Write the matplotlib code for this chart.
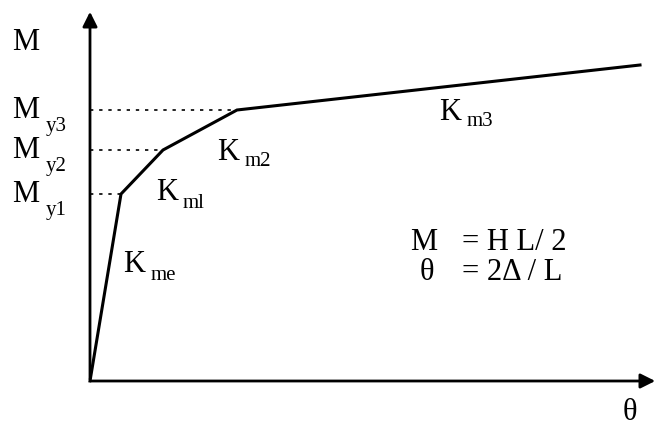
import matplotlib.pyplot as plt

# kurva momen-rotasi (satuan relatif terhadap titik asal)
theta = [0, 31, 73, 147, 550]
M = [0, 187, 231, 271, 316]
leleh_label = ['y1', 'y2', 'y3']
kekakuan_label = ['me', 'ml', 'm2', 'm3']

plt.rcParams['font.family'] = ['Liberation Serif', 'DejaVu Serif']

fig = plt.figure(figsize=(6.58, 4.29), dpi=100)
ax = fig.add_axes([0, 0, 1, 1])
ax.set_xlim(-90, 568)
ax.set_ylim(-48, 381)
ax.axis('off')

# sumbu
ax.annotate('', xy=(568, 0), xytext=(-1, 0),
            arrowprops=dict(arrowstyle='-|>', lw=2, color='black', mutation_scale=22))
ax.annotate('', xy=(0, 372), xytext=(0, -1),
            arrowprops=dict(arrowstyle='-|>', lw=2, color='black', mutation_scale=22))

# kurva
ax.plot(theta, M, color='black', lw=2.2, solid_joinstyle='miter')

# garis putus-putus ke titik leleh
for i in range(1, 4):
    ax.plot([0, theta[i]], [M[i], M[i]], color='black', lw=1.2, ls=(0, (2, 3.5)))

fs = 22
fs_sub = 15


def label(x, y, main, sub, dx=30, dy=-16):
    ax.text(x, y, main, fontsize=fs, va='center', ha='left')
    ax.text(x + dx, y + dy, sub, fontsize=fs_sub, va='center', ha='left')


ax.text(-78, 339, 'M', fontsize=fs, va='center', ha='left')
for i in range(3):
    label(-78, M[i + 1], 'M', leleh_label[i], dx=34)

label(33, 116, 'K', kekakuan_label[0], dx=28, dy=-10)
label(66, 188, 'K', kekakuan_label[1], dx=27, dy=-10)
label(127, 228, 'K', kekakuan_label[2], dx=28, dy=-9)
label(349, 268, 'K', kekakuan_label[3], dx=28, dy=-9)

ax.text(320, 139, 'M', fontsize=fs, va='center', ha='left')
ax.text(372, 139, '= H L/ 2', fontsize=fs, va='center', ha='left')
ax.text(330, 108, 'θ', fontsize=fs, va='center', ha='left')
ax.text(372, 108, '= 2Δ / L', fontsize=fs, va='center', ha='left')

ax.text(533, -31, 'θ', fontsize=fs, va='center', ha='left')

fig.savefig('out.png', dpi=100)
